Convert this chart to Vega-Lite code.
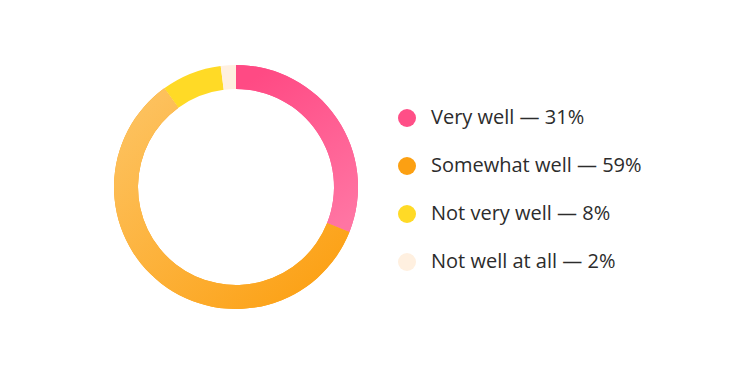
{
  "$schema": "https://vega.github.io/schema/vega-lite/v6.json",
  "width": 472,
  "height": 374,
  "autosize": {"type": "none"},
  "padding": {"left": 0, "top": 0, "right": 278, "bottom": 1},
  "background": "white",
  "config": {"view": {"stroke": null}, "font": "Open Sans"},
  "data": {
    "values": [
      {"label": "Very well — 31%", "value": 31, "order": 1},
      {"label": "Somewhat well — 59%", "value": 59, "order": 2},
      {"label": "Not very well — 8%", "value": 8, "order": 3},
      {"label": "Not well at all — 2%", "value": 2, "order": 4}
    ]
  },
  "transform": [
    {"stack": "value", "groupby": [], "sort": [{"field": "order"}], "as": ["v0", "v1"]}
  ],
  "encoding": {
    "theta": {"field": "v0", "type": "quantitative", "scale": {"domain": [0, 100]}},
    "theta2": {"field": "v1"}
  },
  "layer": [
    {
      "mark": {"type": "arc", "outerRadius": 122, "innerRadius": 98},
      "encoding": {
        "color": {
          "field": "label",
          "type": "nominal",
          "sort": ["Very well — 31%", "Somewhat well — 59%", "Not very well — 8%", "Not well at all — 2%"],
          "scale": {
            "domain": ["Very well — 31%", "Somewhat well — 59%", "Not very well — 8%", "Not well at all — 2%"],
            "range": ["#FF4F87", "#FCA012", "#FFDA26", "#FFF0E0"]
          },
          "legend": {
            "title": null,
            "orient": "none",
            "legendX": 397,
            "legendY": 108,
            "symbolType": "circle",
            "symbolSize": 324,
            "symbolStrokeWidth": 0,
            "labelFontSize": 20,
            "labelFont": "Open Sans",
            "labelColor": "#2c2c2c",
            "labelOffset": 14,
            "labelLimit": 400,
            "rowPadding": 28
          }
        }
      }
    },
    {
      "transform": [{"filter": "datum.order === 1"}],
      "mark": {
        "type": "arc", "outerRadius": 122, "innerRadius": 98,
        "color": {"gradient": "linear", "x1": 0.3, "y1": 0, "x2": 0.8, "y2": 1,
          "stops": [{"offset": 0, "color": "#FF4A84"}, {"offset": 1, "color": "#FF75A3"}]}
      }
    },
    {
      "transform": [{"filter": "datum.order === 2"}],
      "mark": {
        "type": "arc", "outerRadius": 122, "innerRadius": 98,
        "color": {"gradient": "linear", "x1": 0, "y1": 0, "x2": 1, "y2": 1,
          "stops": [{"offset": 0, "color": "#FDC566"}, {"offset": 1, "color": "#FC9D0C"}]}
      }
    }
  ]
}
